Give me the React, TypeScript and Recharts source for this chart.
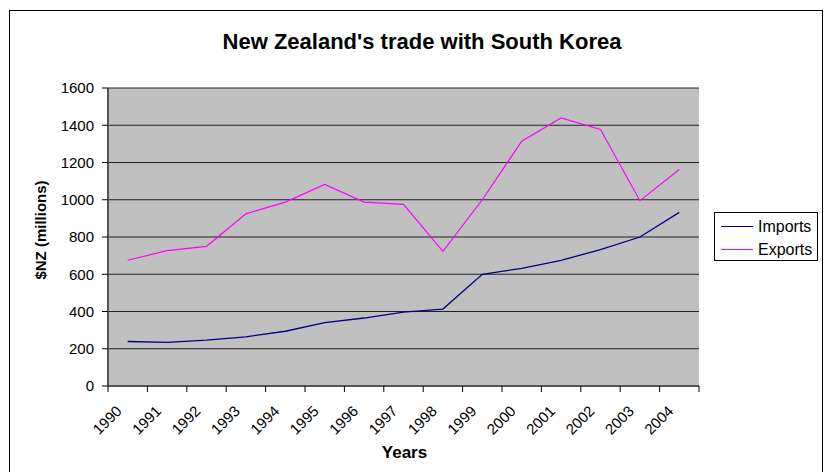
import React from 'react'
import { LineChart, Line, XAxis, YAxis, CartesianGrid, Legend } from 'recharts'

const years = ['1990', '1991', '1992', '1993', '1994', '1995', '1996', '1997', '1998', '1999', '2000', '2001', '2002', '2003', '2004']
const imports = [239, 234, 246, 264, 294, 340, 365, 397, 413, 600, 632, 675, 732, 800, 932]
const exports = [675, 727, 750, 925, 987, 1082, 987, 975, 723, 1000, 1314, 1439, 1377, 995, 1162]
const yTicks = [0, 200, 400, 600, 800, 1000, 1200, 1400, 1600]
const seriesOrder = ['Imports', 'Exports']

const data = years.map((year, i) => ({ year, Imports: imports[i], Exports: exports[i] }))

const FONT = '"Liberation Sans", Arial, sans-serif'

function YearTick(props: any) {
  const { x, y, payload, index, visibleTicksCount, width } = props
  const count = visibleTicksCount || years.length
  const half = (width || 591) / count / 2
  return (
    <g>
      <line x1={x - half} y1={y} x2={x - half} y2={y + 6} stroke="#000" />
      {index === count - 1 && <line x1={x + half} y1={y} x2={x + half} y2={y + 6} stroke="#000" />}
      <text
        transform={`translate(${x - 5},${y + 26}) rotate(-45)`}
        textAnchor="end"
        fontSize={15}
        fontFamily={FONT}
        fill="#000"
      >
        {payload.value}
      </text>
    </g>
  )
}

function LegendBox({ payload }: any) {
  const items = [...(payload || [])].sort(
    (a: any, b: any) => seriesOrder.indexOf(a.value) - seriesOrder.indexOf(b.value)
  )
  return (
    <div style={{ border: '1px solid #000', background: '#fff', width: 104, height: 49, padding: '2px 0', boxSizing: 'border-box', fontFamily: FONT, fontSize: 16 }}>
      {items.map((p: any) => (
        <div key={p.value} style={{ display: 'flex', alignItems: 'center', height: 23, lineHeight: '23px' }}>
          <span style={{ display: 'inline-block', width: 32, height: 0, borderTop: `1px solid ${p.color}`, marginLeft: 6, marginRight: 5 }} />
          <span>{p.value}</span>
        </div>
      ))}
    </div>
  )
}

export default function App() {
  return (
    <div style={{ position: 'absolute', left: 0, top: 0, width: 825, height: 472, overflow: 'hidden', background: '#fff', fontFamily: FONT }}>
      <div style={{ position: 'absolute', left: 9, top: 10, width: 812, height: 480, border: '1px solid #000' }} />
      <div style={{ position: 'absolute', left: 22, top: 29, width: 800, textAlign: 'center', fontWeight: 'bold', fontSize: 22, lineHeight: '26px' }}>
        New Zealand's trade with South Korea
      </div>
      <div style={{ position: 'absolute', left: 0, top: 0 }}>
        <LineChart width={825} height={472} data={data} margin={{ top: 88, right: 126, bottom: 36, left: 48 }}>
          <CartesianGrid vertical={false} stroke="#222" fill="#c0c0c0" fillOpacity={1} />
          <XAxis
            dataKey="year"
            scale="band"
            height={50}
            stroke="#555"
            strokeWidth={2}
            tickLine={false}
            tickSize={0}
            tickMargin={0}
            tick={<YearTick />}
            interval={0}
            label={({ viewBox }: any) => (
              <text x={viewBox.x + viewBox.width / 2 + 1} y={viewBox.y + 72} textAnchor="middle" fontSize={17} fontWeight="bold" fontFamily={FONT} fill="#000">
                Years
              </text>
            )}
          />
          <YAxis
            width={60}
            domain={[0, 1600]}
            ticks={yTicks}
            interval={0}
            stroke="#555"
            strokeWidth={2}
            tickSize={6}
            tickMargin={8}
            tickLine={{ stroke: '#000', strokeWidth: 1 }}
            tick={{ fontSize: 15, fill: '#000', fontFamily: FONT }}
            label={({ viewBox }: any) => {
              const cx = viewBox.x - 8
              const cy = viewBox.y + viewBox.height / 2 - 7
              return (
                <text x={cx} y={cy} transform={`rotate(-90, ${cx}, ${cy})`} textAnchor="middle" dominantBaseline="central" fontSize={15} fontWeight="bold" fontFamily={FONT} fill="#000">
                  $NZ (millions)
                </text>
              )
            }}
          />
          <YAxis yAxisId="edge" orientation="right" width={0} tick={false} tickLine={false} stroke="#808080" />
          <Legend
            layout="vertical"
            align="center"
            verticalAlign="middle"
            wrapperStyle={{ left: 714, top: 212, width: 104 }}
            content={<LegendBox />}
          />
          <Line type="linear" dataKey="Imports" stroke="#000080" strokeWidth={1.3} dot={false} isAnimationActive={false} />
          <Line type="linear" dataKey="Exports" stroke="#ff00ff" strokeWidth={1.2} dot={false} isAnimationActive={false} />
        </LineChart>
      </div>
    </div>
  )
}
